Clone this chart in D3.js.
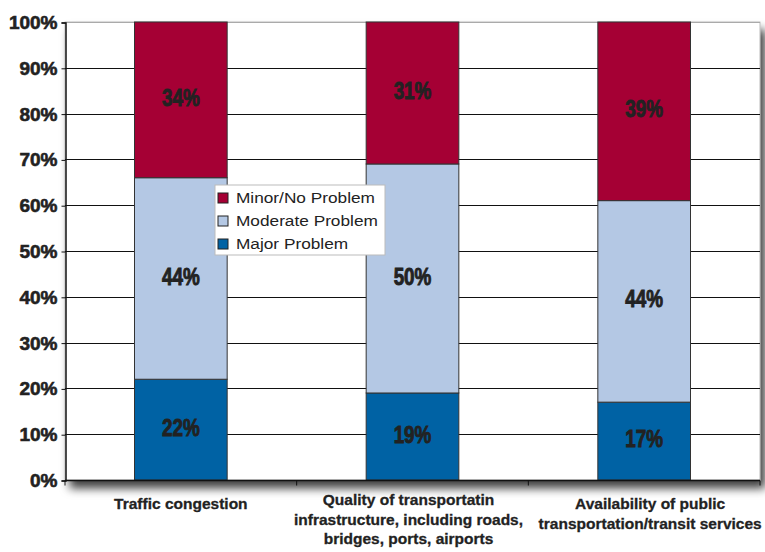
<!DOCTYPE html>
<html>
<head>
<meta charset="utf-8">
<script src="https://cdn.jsdelivr.net/npm/d3@7"></script>
<style>
  body { margin: 0; background: #fff; }
  svg { display: block; }
  text { font-family: "Liberation Sans", Arial, sans-serif; fill: #222; }
</style>
</head>
<body>
<svg id="chart" width="765" height="552"></svg>
<script>
// categories and series (percent of respondents)
var categories = ["Traffic congestion",
                  "Quality of transportatin infrastructure, including roads, bridges, ports, airports",
                  "Availability of public transportation/transit services"];
var categoryLines = [["Traffic congestion"],
                     ["Quality of transportatin", "infrastructure, including roads,", "bridges, ports, airports"],
                     ["Availability of public", "transportation/transit services"]];
var seriesNames = ["Major Problem", "Moderate Problem", "Minor/No Problem"];
var major = [22, 19, 17];
var moderate = [44, 50, 44];
var minor = [34, 31, 39];
var yTicks = [0, 10, 20, 30, 40, 50, 60, 70, 80, 90, 100];
var colors = ["#0062a4", "#b4c8e4", "#a50034"];

var svg = d3.select("#chart");
var margin = {left: 65, right: 5, top: 22, bottom: 72};
var W = 765, H = 552;

var x = d3.scaleBand()
  .domain(categories)
  .range([margin.left, W - margin.right])
  .paddingInner(0.6)
  .paddingOuter(0.3);

var y = d3.scaleLinear()
  .domain([0, 100])
  .range([H - margin.bottom, margin.top]);

// drop shadow for the plot area
var defs = svg.append("defs");
var f = defs.append("filter").attr("id", "shadow")
  .attr("x", "-5%").attr("y", "-5%").attr("width", "115%").attr("height", "125%");
f.append("feDropShadow").attr("dx", 5).attr("dy", 8).attr("stdDeviation", 5)
  .attr("flood-color", "#000").attr("flood-opacity", 0.75);

svg.append("rect")
  .attr("x", margin.left).attr("y", margin.top)
  .attr("width", W - margin.right - margin.left)
  .attr("height", y(0) - margin.top)
  .attr("fill", "#fff")
  .attr("stroke", "#aaa").attr("stroke-width", 0.8)
  .attr("filter", "url(#shadow)");

// gridlines
svg.append("g").selectAll("line").data(yTicks.slice(1)).join("line")
  .attr("x1", margin.left).attr("x2", W - margin.right)
  .attr("y1", d => Math.round(y(d)) + 0.5).attr("y2", d => Math.round(y(d)) + 0.5)
  .attr("stroke", d => d === 100 ? "#aaa" : "#111").attr("stroke-width", 1.2);

// y axis
var yAxis = d3.axisLeft(y).tickValues(yTicks).tickFormat(d => d + "%").tickSize(4).tickPadding(4);
var gy = svg.append("g").attr("transform", "translate(" + (margin.left + 0.5) + ",0.5)").call(yAxis);
gy.select(".domain").attr("stroke", "#111").attr("stroke-width", 1.5);
gy.selectAll(".tick line").attr("stroke", "#111");
gy.selectAll("text")
  .style("font-family", '"Liberation Sans", Arial, sans-serif')
  .style("font-size", "19px").style("font-weight", "bold").attr("fill", "#222")
  .attr("stroke", "#222").attr("stroke-width", 0.6);

// stacked bars
var stackData = categories.map((c, i) => ({cat: c, major: major[i], moderate: moderate[i], minor: minor[i]}));
var stack = d3.stack().keys(["major", "moderate", "minor"])(stackData);

var layers = svg.append("g").selectAll("g").data(stack).join("g")
  .attr("fill", (d, i) => colors[i]);

layers.selectAll("rect").data(d => d).join("rect")
  .attr("x", d => x(d.data.cat))
  .attr("width", x.bandwidth())
  .attr("y", d => y(d[1]))
  .attr("height", d => y(d[0]) - y(d[1]))
  .attr("stroke", "#333").attr("stroke-width", 1);

// value labels, squeezed to look like a narrow face
layers.selectAll("text").data(d => d).join("text")
  .attr("transform", d => "translate(" + (x(d.data.cat) + x.bandwidth() / 2) + "," +
        ((y(d[0]) + y(d[1])) / 2 - 2) + ") scale(0.82,1)")
  .attr("dy", "0.35em")
  .attr("text-anchor", "middle")
  .style("font-size", "23px").style("font-weight", "bold")
  .attr("fill", "#222")
  .attr("stroke", "#222").attr("stroke-width", 0.9)
  .text(d => (d[1] - d[0]) + "%");

// x axis baseline and category ticks
var base = Math.round(y(0)) + 0.5;
svg.append("line")
  .attr("x1", margin.left).attr("x2", W - margin.right)
  .attr("y1", base).attr("y2", base)
  .attr("stroke", "#111").attr("stroke-width", 1.5);
var bounds = d3.range(categories.length + 1).map(i => margin.left + i * (W - margin.right - margin.left) / categories.length);
svg.append("g").selectAll("line").data(bounds).join("line")
  .attr("x1", d => d).attr("x2", d => d)
  .attr("y1", base).attr("y2", base + 5)
  .attr("stroke", "#111");

// category labels
var labels = svg.append("g").selectAll("text").data(categories).join("text")
  .attr("text-anchor", "middle")
  .style("font-size", "15.5px").style("font-weight", "bold")
  .attr("fill", "#222")
  .attr("stroke", "#222").attr("stroke-width", 0.3)
  .attr("transform", (d, i) => "translate(" + (x(d) + x.bandwidth() / 2 + (i === 0 ? 0 : i === 1 ? -4 : 6)) + "," +
        (categoryLines[i].length === 3 ? 505 : 509) + ")");
labels.selectAll("tspan").data((d, i) => categoryLines[i]).join("tspan")
  .attr("x", 0).attr("y", (d, j) => j * 19.5)
  .text(d => d);

// legend
var lg = svg.append("g").attr("transform", "translate(215,185)");
lg.append("rect").attr("width", 170).attr("height", 70)
  .attr("fill", "#fff").attr("stroke", "#bbb").attr("stroke-width", 1);
var legendOrder = [2, 1, 0];
var items = lg.selectAll("g").data(legendOrder).join("g")
  .attr("transform", (d, i) => "translate(3," + (8 + i * 23) + ")");
items.append("rect").attr("width", 10).attr("height", 10)
  .attr("fill", d => colors[d]).attr("stroke", "#222").attr("stroke-width", 1);
items.append("text")
  .attr("transform", "translate(18,5) scale(1.15,1)")
  .attr("dy", "0.36em")
  .style("font-size", "15px").attr("fill", "#222")
  .text(d => seriesNames[d]);
</script>
</body>
</html>
